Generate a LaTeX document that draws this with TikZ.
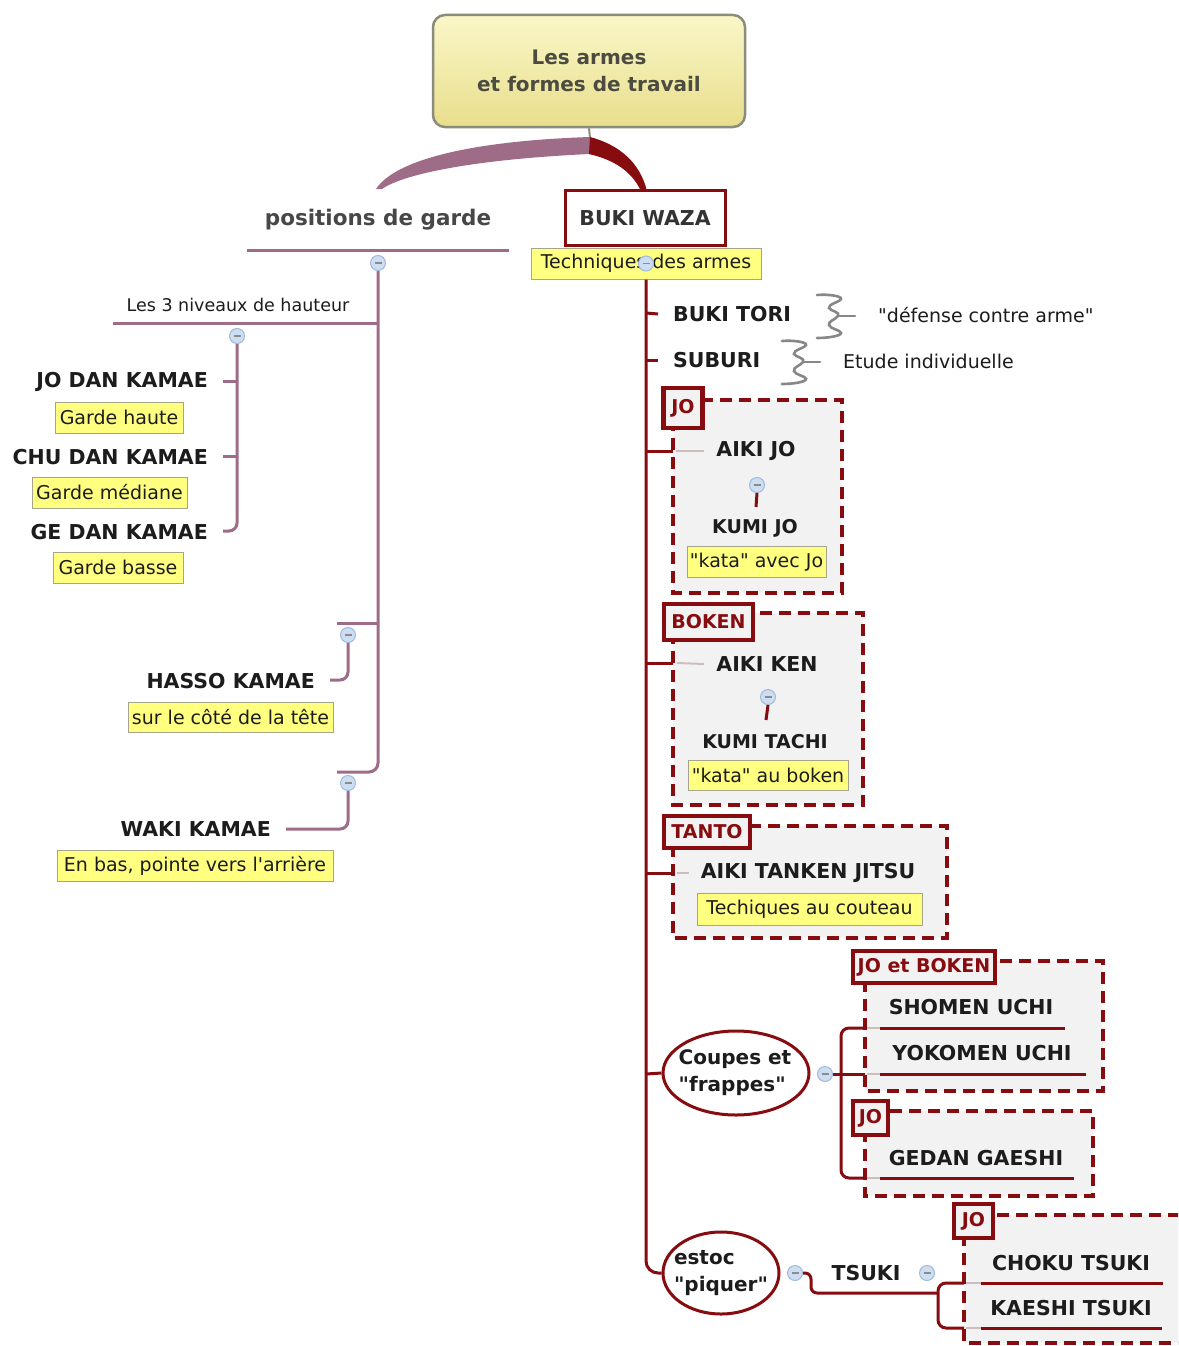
\documentclass[tikz,border=0pt]{standalone}
\usepackage{fontspec}
\setmainfont{DejaVu Sans}[Ligatures=TeXOff]
\usetikzlibrary{shapes.geometric}
\definecolor{dred}{RGB}{135,12,16}
\definecolor{mauve}{RGB}{158,108,134}
\definecolor{noteyel}{RGB}{255,255,128}
\definecolor{notebd}{RGB}{165,165,140}
\definecolor{grpfill}{RGB}{242,242,242}
\definecolor{circfill}{RGB}{205,222,242}
\definecolor{circbd}{RGB}{160,185,220}
\definecolor{roottop}{RGB}{250,247,200}
\definecolor{rootbot}{RGB}{232,222,140}
\definecolor{rootbd}{RGB}{140,140,125}
\definecolor{roottxt}{RGB}{75,75,65}
\definecolor{txt}{RGB}{28,28,28}
\definecolor{stubc}{RGB}{205,190,190}
\definecolor{sqc}{RGB}{135,135,135}
\newcommand\squig[2]{\begin{scope}[shift={(#1,#2)}]
 \draw[sq] (-21,-21) .. controls (-10,-22) and (4,-20) .. (3,-17) .. controls (2,-14) and (-10,-12) .. (-9,-8) .. controls (-8,-5) and (3,-4) .. (0,0) .. controls (-3,4) and (-10,5) .. (-9,9) .. controls (-8,13) and (3,14) .. (3,17) .. controls (3,20) and (-10,22) .. (-21,22);
 \draw[sq] (0,0) -- (17,0);
\end{scope}}
\begin{document}
\begin{tikzpicture}[x=1pt,y=-1pt,
 mainlbl/.style={font=\fontsize{20.5}{24}\selectfont\bfseries, text=txt, inner sep=0pt},
 sublbl/.style={font=\fontsize{19}{23}\selectfont\bfseries, text=txt, inner sep=0pt},
 plain/.style={font=\fontsize{19}{23}\selectfont, text=txt, inner sep=0pt},
 note/.style={draw=notebd, line width=1pt, fill=noteyel, font=\fontsize{19}{23}\selectfont, text=txt, inner sep=0pt},
 grp/.style={draw=dred, line width=4.5pt, dash pattern=on 12pt off 7pt, fill=grpfill},
 glabel/.style={draw=dred, line width=4.5pt, fill=grpfill, text=dred, font=\fontsize{19}{23}\selectfont\bfseries, inner sep=0pt},
 dline/.style={draw=dred, line width=3pt},
 mline/.style={draw=mauve, line width=3pt},
 stub/.style={draw=stubc, line width=2pt},
 sq/.style={draw=sqc, line width=2.6pt, line cap=round},
 circ/.style={circle, draw=circbd, fill=circfill, line width=1pt, minimum size=15pt, inner sep=0pt,
   path picture={\draw[black!45, line width=1.2pt] ([xshift=-3.5pt]path picture bounding box.center) -- ([xshift=3.5pt]path picture bounding box.center);}},
 ell/.style={ellipse, draw=dred, line width=3pt, fill=white, inner sep=0pt},
 elltxt/.style={align=left, font=\fontsize{20}{27}\selectfont\bfseries, text=txt, inner sep=0pt}
]
\useasboundingbox (0,0) rectangle (1178,1346);
\clip (0,0) rectangle (1178,1346);
\fill[white] (0,0) rectangle (1178,1346);

% ---------- root ----------
\node[rectangle, rounded corners=12pt, draw=rootbd, line width=2.5pt, top color=roottop, bottom color=rootbot,
      minimum width=312pt, minimum height=112pt, align=center, font=\fontsize{20}{27}\selectfont\bfseries, text=roottxt]
      (root) at (589,71) {Les armes\\et formes de travail};
\coordinate (rs) at (590,138);
\draw[draw=rootbd, line width=2pt] (root.south) -- (rs);
\fill[mauve] (590,137) .. controls (470,141) and (395,160) .. (376,189) -- (382,189) .. controls (405,173) and (480,159) .. (590,154) -- cycle;
\fill[dred] (590,137) .. controls (620,145) and (640,163) .. (647,191) -- (641,191) .. controls (632,172) and (615,160) .. (589,154) -- cycle;

% ---------- left: positions de garde ----------
\node[font=\fontsize{21.5}{26}\selectfont\bfseries, text=black!72, inner sep=0pt] (pg) at (378,220) {positions de garde};
\coordinate (pgl) at (247,250); \coordinate (pgr) at (509,250);
\draw[mline] (pgl) -- (pgr);
\node[circ] (pc) at (378,263) {};
\coordinate (tb) at (378,772); \coordinate (wh) at (337,772);
\draw[mline, rounded corners=9pt] (pc.south) -- (tb) -- (wh);

% Les 3 niveaux
\node[plain, font=\fontsize{17.5}{21}\selectfont] (n3t) at (238,305) {Les 3 niveaux de hauteur};
\coordinate (n3l) at (113,323); \coordinate (n3r) at (378,323);
\draw[mline] (n3l) -- (n3r);
\node[circ] (n3) at (237,336) {};
\node[mainlbl, anchor=east] (jd) at (208,382) {JO DAN KAMAE};
\node[mainlbl, anchor=east] (cd) at (208,457) {CHU DAN KAMAE};
\node[mainlbl, anchor=east] (gd) at (208,532) {GE DAN KAMAE};
\coordinate (n3b) at (237,531);
\draw[mline, rounded corners=8pt] (n3.south) -- (n3b) -- ([xshift=15pt]gd.east |- n3b);
\draw[mline] ([xshift=15pt]jd.east |- 0,381) -- (237,381);
\draw[mline] ([xshift=15pt]cd.east |- 0,456) -- (237,456);
\node[note, minimum width=128pt, minimum height=31pt] (gh) at (119,417.5) {Garde haute};
\node[note, minimum width=155pt, minimum height=31pt] (gm) at (109.5,492.5) {Garde médiane};
\node[note, minimum width=130pt, minimum height=31pt] (gb) at (118,567.5) {Garde basse};

% Hasso
\coordinate (hr) at (378,623); \coordinate (hl) at (337,623);
\draw[mline] (hr) -- (hl);
\node[circ] (hc) at (348,635) {};
\node[mainlbl, anchor=east] (hk) at (315,681) {HASSO KAMAE};
\coordinate (hb) at (348,680);
\draw[mline, rounded corners=8pt] (hc.south) -- (hb) -- ([xshift=15pt]hk.east |- hb);
\node[note, minimum width=205pt, minimum height=30pt] (hn) at (230.5,717) {sur le côté de la tête};

% Waki
\node[circ] (wc) at (348,783) {};
\node[mainlbl, anchor=east] (wk) at (271,829) {WAKI KAMAE};
\coordinate (wb) at (348,829);
\draw[mline, rounded corners=8pt] (wc.south) -- (wb) -- ([xshift=15pt]wk.east |- wb);
\node[note, minimum width=276pt, minimum height=31pt] (wn) at (195,865.5) {En bas, pointe vers l'arrière};

% ---------- right: BUKI WAZA ----------
\draw[grp] (673,400) rectangle (842,593);
\draw[grp] (673,613) rectangle (863,805);
\draw[grp] (673,826) rectangle (947,938);
\draw[grp] (865,961) rectangle (1103,1091);
\draw[grp] (865,1111) rectangle (1093,1196);
\draw[grp] (964,1215) rectangle (1210,1343);

\node[draw=dred, line width=3pt, fill=white, minimum width=160pt, minimum height=55pt, mainlbl, text=black!80] (buki) at (645,218) {BUKI WAZA};
\node[note, minimum width=230pt, minimum height=31pt] (tech) at (646,263.5) {Techniques des armes};

\node[ell, minimum width=116pt, minimum height=82pt] (estoc) at (721,1273) {};
\node[elltxt] (estoct) at (721,1273) {estoc\\"piquer"};
\node[ell, minimum width=146pt, minimum height=84pt] (coupes) at (736,1073) {};
\node[elltxt] (coupest) at (735,1073) {Coupes et\\"frappes"};

\coordinate (tk) at (646,1273);
\draw[dline, rounded corners=12pt] (tech.south) -- (tk) -- (estoc.west);
\node[circ] at (tech.center) {};

% Buki tori / Suburi
\node[mainlbl, anchor=west] (bt) at (673,314) {BUKI TORI};
\node[mainlbl, anchor=west] (sb) at (673,360) {SUBURI};
\draw[dline] (646,313) -- ([xshift=-15pt]bt.west);
\draw[dline] (646,360) -- ([xshift=-15pt]sb.west);
\squig{838}{316}
\squig{803}{362}
\node[plain, anchor=west] (dca) at (878,315) {"défense contre arme"};
\node[plain, anchor=west] (ei) at (843,361) {Etude individuelle};

% JO group
\node[glabel, minimum width=39pt, minimum height=40pt] (gjo) at (683,408) {JO};
\node[mainlbl] (aj) at (756,451) {AIKI JO};
\draw[dline] (646,451) -- (673,451);
\draw[stub] (676,451) -- ([xshift=-12pt]aj.west);
\node[circ] (ajc) at (757,485) {};
\coordinate (ajl) at (756,507);
\draw[dline] (ajc.south) -- (ajl);
\node[sublbl] (kj) at (755,528) {KUMI JO};
\node[note, minimum width=139pt, minimum height=31pt] (kjn) at (756.5,562) {"kata" avec Jo};

% BOKEN group
\node[glabel, minimum width=89pt, minimum height=36pt] (gbk) at (708.5,622) {BOKEN};
\node[mainlbl] (ak) at (767,664) {AIKI KEN};
\draw[dline] (646,663) -- (673,663);
\draw[stub] (677,663) -- ([xshift=-12pt]ak.west);
\node[circ] (akc) at (768,697) {};
\coordinate (akl) at (766,720);
\draw[dline] (akc.south) -- (akl);
\node[sublbl] (kt) at (765,742) {KUMI TACHI};
\node[note, minimum width=160pt, minimum height=30pt] (ktn) at (768,775) {"kata" au boken};

% TANTO group
\node[glabel, minimum width=86pt, minimum height=32pt] (gtn) at (707,832) {TANTO};
\node[mainlbl] (atj) at (808,873) {AIKI TANKEN JITSU};
\draw[dline] (646,873) -- (673,873);
\draw[stub] (677,873) -- ([xshift=-12pt]atj.west);
\node[note, minimum width=225pt, minimum height=32pt] (atn) at (809.5,909) {Techiques au couteau};

% Coupes et frappes
\draw[dline] (646,1074) -- (coupes.west);
\node[circ] (cc) at (825,1074) {};
\coordinate (b1t) at (841,1028); \coordinate (b1b) at (841,1178);
\draw[dline, rounded corners=8pt] (865,1028) -- (b1t) -- (b1b) -- (865,1178);
\draw[dline] (cc.east) -- (865,1074);
\node[glabel, minimum width=142pt, minimum height=32pt] (gjb) at (924,967) {JO et BOKEN};
\node[glabel, minimum width=35pt, minimum height=34pt] (gj2) at (870.5,1118) {JO};
\node[mainlbl] (su) at (971,1007) {SHOMEN UCHI};
\node[mainlbl] (yu) at (982,1053) {YOKOMEN UCHI};
\node[mainlbl] (gg) at (976,1158) {GEDAN GAESHI};
\draw[stub] (867,1028) -- (880,1028); \draw[dline] (880,1028) -- (1065,1028);
\draw[stub] (867,1074) -- (880,1074); \draw[dline] (880,1074) -- (1086,1074);
\draw[stub] (867,1178) -- (880,1178); \draw[dline] (880,1178) -- (1074,1178);

% estoc / TSUKI
\node[circ] (ce) at (795,1273) {};
\node[mainlbl] (ts) at (866,1273) {TSUKI};
\node[circ] (tc) at (927,1273) {};
\coordinate (b2t) at (938,1283); \coordinate (b2b) at (938,1328);
\draw[dline, rounded corners=6pt] (ce.east) -- (811,1273) -- (811,1293) -- (938,1293);
\draw[dline, rounded corners=8pt] (964,1283) -- (b2t) -- (b2b) -- (964,1328);
\node[glabel, minimum width=39pt, minimum height=34pt] (gj3) at (973.5,1221) {JO};
\node[mainlbl] (ct) at (1071,1263) {CHOKU TSUKI};
\node[mainlbl] (kst) at (1071,1308) {KAESHI TSUKI};
\draw[stub] (966,1283) -- (981,1283); \draw[dline] (981,1283) -- (1163,1283);
\draw[stub] (966,1328) -- (981,1328); \draw[dline] (981,1328) -- (1162,1328);
\end{tikzpicture}
\end{document}
